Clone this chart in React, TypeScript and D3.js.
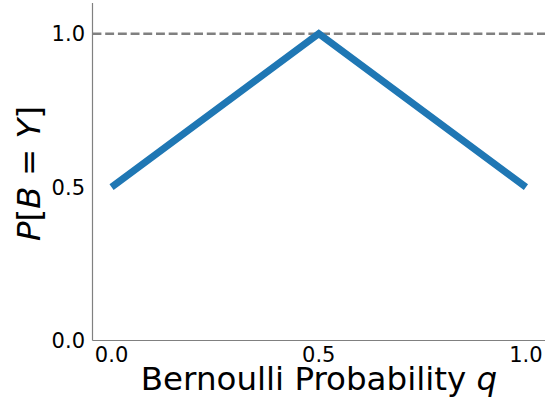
import React from "react";
import * as d3 from "d3";

const qValues = [0, 0.5, 1];
const pValues = [0.5, 1, 0.5];
const xTicks = [0, 0.5, 1];
const yTicks = [0, 0.5, 1];
const refLine = 1;

const W = 549;
const H = 406;
const left = 92.5;
const right = 545;
const top = 3;
const bottom = 340.5;

export default function App() {
  const x = d3.scaleLinear().domain([-0.046, 1.046]).range([left, right]);
  const y = d3.scaleLinear().domain([0, 1.1]).range([bottom, top]);
  const line = d3
    .line<number>()
    .x((_, i) => x(qValues[i]))
    .y((d) => y(d));
  const font = "DejaVu Sans, sans-serif";
  return (
    <svg
      width={W}
      height={H}
      style={{ position: "absolute", left: 0, top: 0, background: "#fff" }}
      fontFamily={font}
    >
      <line
        x1={left}
        x2={right}
        y1={y(refLine)}
        y2={y(refLine)}
        stroke="#808080"
        strokeWidth={2.4}
        strokeDasharray="8.9,3.8"
      />
      <path
        d={line(pValues) || ""}
        fill="none"
        stroke="#1f77b4"
        strokeWidth={7}
        strokeLinejoin="miter"
        strokeLinecap="butt"
      />
      <line x1={left} x2={left} y1={top} y2={bottom} stroke="#808080" strokeWidth={1.2} />
      <line x1={left} x2={right} y1={bottom} y2={bottom} stroke="#808080" strokeWidth={1.2} />
      {xTicks.map((t) => (
        <text key={"x" + t} x={x(t)} y={362} fontSize={21} textAnchor="middle" fill="#000">
          {t.toFixed(1)}
        </text>
      ))}
      {yTicks.map((t) => (
        <text key={"y" + t} x={85} y={y(t) + 7.5} fontSize={21} textAnchor="end" fill="#000">
          {t.toFixed(1)}
        </text>
      ))}
      <text x={319} y={390} fontSize={32.5} textAnchor="middle" fill="#000">
        Bernoulli Probability <tspan fontStyle="italic">q</tspan>
      </text>
      <text
        transform={`translate(40,${173.5}) rotate(-90)`}
        fontSize={32.5}
        textAnchor="middle"
        fill="#000"
      >
        <tspan fontStyle="italic">P</tspan>[<tspan fontStyle="italic">B</tspan>
        {" = "}
        <tspan fontStyle="italic">Y</tspan>]
      </text>
    </svg>
  );
}
